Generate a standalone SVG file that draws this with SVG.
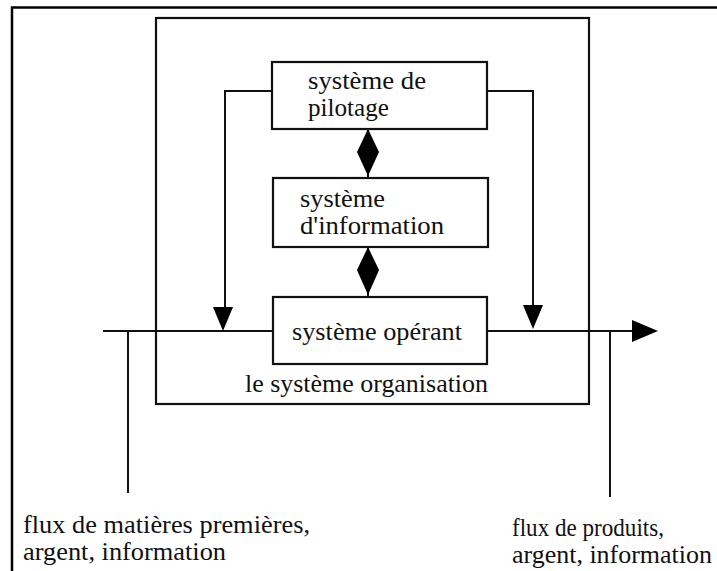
<svg xmlns="http://www.w3.org/2000/svg" width="717" height="571" viewBox="0 0 717 571">
<style>
.box{fill:#fff;stroke:#111;stroke-width:2.2}
.frame{fill:none;stroke:#111;stroke-width:2.2}
.ln{fill:none;stroke:#111;stroke-width:2}
.hd{fill:#000;stroke:none}
text{font-family:"Liberation Serif","Times New Roman",serif;font-size:26px;fill:#111}
</style>
<rect width="717" height="571" fill="#fff"/>
<path d="M12 571 V7.5 H717" fill="none" stroke="#000" stroke-width="2.5"/>
<g id="organisation">
<rect class="frame" x="156" y="18" width="433" height="386"/>
<text x="245" y="392" textLength="243" lengthAdjust="spacingAndGlyphs">le système organisation</text>
</g>
<g id="connectors">
<path class="ln" d="M272 91 H225 V310"/>
<polygon class="hd" points="213,307 233,307 223,331"/>
<path class="ln" d="M487 91 H533 V308"/>
<polygon class="hd" points="523,305 543,305 533,329"/>
<path class="ln" d="M103 331 H272 M487 331 H636"/>
<polygon class="hd" points="632,320 658,331 632,342"/>
<path class="ln" d="M128 331 V493 M610 331 V497"/>
<path class="ln" d="M368 129 V178 M368 247 V297"/>
<polygon class="hd" points="368,129 379,152 368,176 357,152"/>
<polygon class="hd" points="368,247 379,270 368,295 357,270"/>
</g>
<g id="pilotage">
<rect class="box" x="272" y="62" width="215" height="67"/>
<text x="308" y="89" textLength="118" lengthAdjust="spacingAndGlyphs">système de</text>
<text x="308" y="116" textLength="81" lengthAdjust="spacingAndGlyphs">pilotage</text>
</g>
<g id="information">
<rect class="box" x="273" y="178" width="215" height="69"/>
<text x="300" y="207" textLength="85" lengthAdjust="spacingAndGlyphs">système</text>
<text x="300" y="234" textLength="144" lengthAdjust="spacingAndGlyphs">d'information</text>
</g>
<g id="operant">
<rect class="box" x="273" y="297" width="214" height="67"/>
<text x="292" y="340" textLength="170" lengthAdjust="spacingAndGlyphs">système opérant</text>
</g>
<g id="flux-entree">
<text x="23" y="533" textLength="287" lengthAdjust="spacingAndGlyphs">flux de matières premières,</text>
<text x="23" y="560" textLength="203" lengthAdjust="spacingAndGlyphs">argent, information</text>
</g>
<g id="flux-sortie">
<text x="512" y="536" textLength="152" lengthAdjust="spacingAndGlyphs">flux de produits,</text>
<text x="512" y="563" textLength="200" lengthAdjust="spacingAndGlyphs">argent, information</text>
</g>
</svg>
